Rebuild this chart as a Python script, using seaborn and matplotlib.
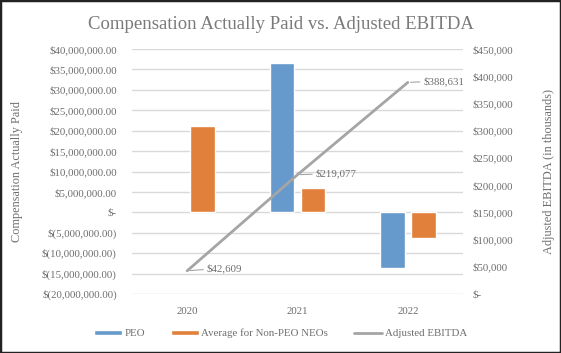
import numpy as np
import pandas as pd
import matplotlib
matplotlib.use("Agg")
import matplotlib.pyplot as plt
from matplotlib.patches import Patch, Rectangle
from matplotlib.lines import Line2D
import seaborn as sns

sns.set_theme(style="white")
plt.rcParams['font.family'] = ['Liberation Serif', 'DejaVu Serif']

years = ["2020", "2021", "2022"]
peo = [np.nan, 36500000, -13600000]
non_peo = [21150000, 6030000, -6400000]
ebitda = [42609, 219077, 388631]
ebitda_labels = ["$42,609", "$219,077", "$388,631"]

blue = "#6699CC"
orange = "#E0803A"
grey_line = "#A5A5A5"
txt = "#6E6E6E"

df = pd.DataFrame({
    "year": years * 2,
    "series": ["PEO"] * 3 + ["Average for Non-PEO NEOs"] * 3,
    "value": peo + non_peo,
})

fig = plt.figure(figsize=(5.61, 3.53), dpi=100)
ax = fig.add_axes([0.2353, 0.1671, 0.59, 0.6941])

sns.barplot(data=df, x="year", y="value", hue="series", order=years,
            palette=[blue, orange], width=0.56, gap=0.2, ax=ax, legend=False,
            saturation=1)
ax.set_ylim(-20000000, 40000000)
ax.set_yticks(np.arange(-20000000, 40000001, 5000000))

def money(v, pos=None):
    if v == 0:
        return "$-"
    if v < 0:
        return "$({:,.2f})".format(-v)
    return "${:,.2f}".format(v)

ax.yaxis.set_major_formatter(plt.FuncFormatter(money))
ax.grid(axis="y", color="#D9D9D9", linewidth=1)
ax.set_axisbelow(True)
for s in ax.spines.values():
    s.set_visible(False)
ax.tick_params(axis="both", length=0, labelsize=7.8, labelcolor=txt)
ax.tick_params(axis="y", pad=11)
ax.tick_params(axis="x", pad=9)
ax.set_xlabel("")
ax.set_ylabel("Compensation Actually Paid", fontsize=8.8, color=txt, labelpad=14)

ax2 = ax.twinx()
xs = list(range(len(years)))
sns.lineplot(x=xs, y=ebitda, color=grey_line, linewidth=2.0, ax=ax2)
ax2.set_ylim(0, 450000)
ax2.set_yticks(np.arange(0, 450001, 50000))
ax2.yaxis.set_major_formatter(plt.FuncFormatter(lambda v, p: "$-" if v == 0 else "${:,.0f}".format(v)))
for s in ax2.spines.values():
    s.set_visible(False)
ax2.tick_params(axis="y", length=0, labelsize=7.8, labelcolor=txt, pad=7)
ax2.set_ylabel("Adjusted EBITDA (in thousands)", fontsize=8.8, color=txt, labelpad=21)
ax.set_xlim(-0.5, 2.5)

offsets = [(14, 2), (13, 1), (11, 1)]
for x, y, lab, off in zip(xs, ebitda, ebitda_labels, offsets):
    ax2.annotate(lab, xy=(x, y), xytext=off, textcoords="offset points",
                 ha="left", va="center", fontsize=7.8, color=txt,
                 arrowprops=dict(arrowstyle="-", color=grey_line, lw=0.8,
                                 shrinkA=0, shrinkB=2))

fig.suptitle("Compensation Actually Paid vs. Adjusted EBITDA", y=0.955,
             fontsize=13.5, color="#7A7A7A")

handles = [Patch(facecolor=blue), Patch(facecolor=orange),
           Line2D([0], [0], color=grey_line, linewidth=2.0)]
labels = ["PEO", "Average for Non-PEO NEOs", "Adjusted EBITDA"]
fig.legend(handles, labels, loc="center", bbox_to_anchor=(0.5, 0.055), ncol=3,
           frameon=False, fontsize=7.8, labelcolor=txt, handlelength=2.6,
           handleheight=0.45, handletextpad=0.2, columnspacing=2.4)

fig.patches.append(Rectangle((0, 0), 1, 1, transform=fig.transFigure,
                             fill=False, edgecolor="#222222", linewidth=2.5))

fig.savefig("out.png", dpi=100)
